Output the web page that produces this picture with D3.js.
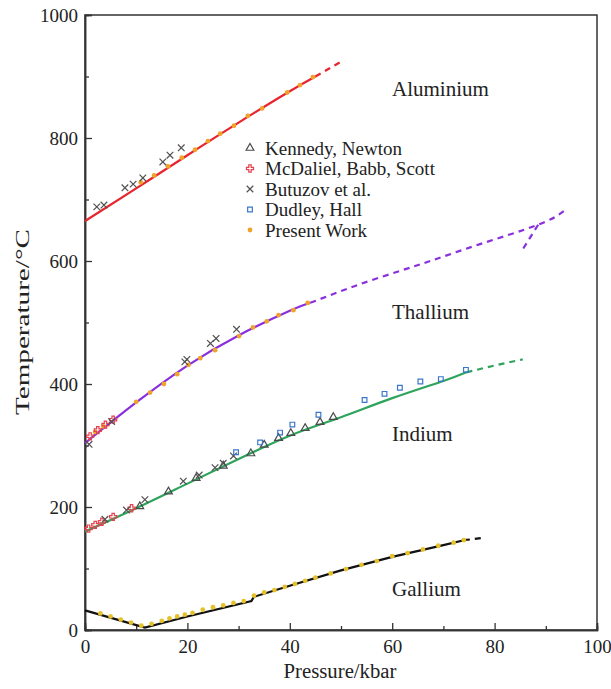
<!DOCTYPE html>
<html>
<head>
<meta charset="utf-8">
<script src="https://cdn.jsdelivr.net/npm/d3@7"></script>
<style>
html,body{margin:0;padding:0;background:#fff;}
</style>
</head>
<body>
<svg id="chart" width="611" height="689"></svg>
<script>
// ---------- data ----------
const xTicks = [0, 20, 40, 60, 80, 100];
const yTicks = [0, 200, 400, 600, 800, 1000];
const xMinor = [10, 30, 50, 70, 90];
const yMinor = [100, 300, 500, 700, 900];

// fitted melting curves [pressure kbar, temperature °C]
const alSolid = [[0,665],[10,718],[20,772],[30,825],[40,876],[45,900]];
const alDash  = [[45,900],[50,924]];
const tlSolid = [[0,304],[10,370],[20,430],[30,479],[40,519],[44,532]];
const tlDash  = [[44,532],[55,566],[66,596],[77,627],[88.5,659],[93.5,681]];
const tlBranch = [[88.5,659],[85.5,619]];
const inSolid = [[0,160],[10,198],[20,238],[30,278],[40,316],[50,346],[60,377],[70,405],[74.5,419]];
const inDash  = [[74.5,419],[80,430],[85.5,440]];
const gaSolid = [[0,32],[11.7,4],[20,22],[32.5,47],[33,54],[40,72],[50,97],[60,119],[70,138],[74,146]];
const gaDash  = [[74,146],[78,150]];

// experimental points
const kennedy = [[10.7,201],[16.3,225],[21.7,247],[27,267],[32.4,287],[35,301],[37.8,312],[40.2,320],[43,328],[45.9,338],[48.5,346]];
const mcdaniel = [[0.7,165],[2,171],[3.3,176],[5.5,184],[9.1,198],[1,315],[2.5,325],[4,334],[5.5,342]];
const butuzov = [[2.3,688],[3.7,691],[7.8,719],[9.4,725],[11.3,735],[15.2,761],[16.6,772],[18.8,784],
  [0.8,302],[5.2,339],[19.5,436],[19.9,440],[24.5,466],[25.6,474],[29.6,489],
  [3.9,180],[8.1,195],[11.7,212],[19.2,242],[22.3,252],[25.4,264],[27,271],[29,283]];
const dudley = [[29.5,289],[34.2,305],[38.1,321],[40.5,334],[45.6,350],[54.6,374],[58.5,384],[61.5,394],[65.5,404],[69.5,408],[74.4,423]];
const presentAl = [[10.9,728],[13.5,739],[16.2,754],[18.9,768],[21.5,781],[24,795],[26.4,807],[29.1,820],[31.8,836],[34.6,848],[39.5,874],[42,886],[44.5,899]];
const presentTl = [[2,322],[3.6,331],[10,371],[12.7,386],[15.4,400],[18,416],[20.2,431],[22.5,442],[25.4,455],[30.1,478],[32.8,492],[35.5,502],[37.8,512],[40.7,520],[43.5,532]];
const presentGa = [[3,27],[5,22],[7,17],[9,12],[11,7],[13,10],[15,15],[16.5,19],[18,22],[19.5,25],[21,28],[23,33],[25,37],[27,40],[29,44],[31,47],[33,56],[35,61],[37,65],[39,70],[41,75],[43,80],[45,85],[48,92],[51,99],[54,106],[57,112],[60,120],[63,125],[66,131],[69,137],[72,142],[74,146]];

const metalLabels = [["Aluminium",880],["Thallium",518],["Indium",320],["Gallium",68]];
const legendItems = ["Kennedy, Newton","McDaliel, Babb, Scott","Butuzov et al.","Dudley, Hall","Present Work"];

// ---------- drawing ----------
const FONT = "'Liberation Serif','Times New Roman','DejaVu Serif',serif";
const svg = d3.select("#chart").style("font-family",FONT);
const x = d3.scaleLinear().domain([0,100]).range([85,597]);
const y = d3.scaleLinear().domain([0,1000]).range([630,15]);
const line = d3.line().x(d=>x(d[0])).y(d=>y(d[1])).curve(d3.curveNatural);
const lineLin = d3.line().x(d=>x(d[0])).y(d=>y(d[1]));

const C = {al:"#e8242c", tl:"#8a2fdc", in:"#2ea35c", ga:"#111", orange:"#f0a22a", gaPt:"#e6c22a", tri:"#4a4a4a", plus:"#e8404e", cross:"#505050", sq:"#3a76cc"};

function txt(sel){ return sel.style("font-family",FONT).attr("fill","#222"); }

// frame
svg.append("rect").attr("x",x(0)).attr("y",y(1000)).attr("width",x(100)-x(0)).attr("height",y(0)-y(1000))
  .attr("fill","none").attr("stroke","#333").attr("stroke-width",1.5);

// axes (ticks inward)
const xAxis = d3.axisBottom(x).tickValues(xTicks).tickSize(-7).tickPadding(8).tickFormat(d3.format("d"));
const gx = svg.append("g").attr("transform",`translate(0,${y(0)})`).call(xAxis);
const xAxisMinor = d3.axisBottom(x).tickValues(xMinor).tickSize(-4).tickFormat("");
const gxm = svg.append("g").attr("transform",`translate(0,${y(0)})`).call(xAxisMinor);
const yAxis = d3.axisLeft(y).tickValues(yTicks).tickSize(-7).tickPadding(7).tickFormat(d3.format("d"));
const gy = svg.append("g").attr("transform",`translate(${x(0)},0)`).call(yAxis);
const yAxisMinor = d3.axisLeft(y).tickValues(yMinor).tickSize(-4).tickFormat("");
const gym = svg.append("g").attr("transform",`translate(${x(0)},0)`).call(yAxisMinor);
[gx,gxm,gy,gym].forEach(g=>{
  g.attr("font-family",null);
  g.select(".domain").attr("stroke","#333").attr("stroke-width",1.5);
  g.selectAll(".tick line").attr("stroke","#333").attr("stroke-width",1.3);
  txt(g.selectAll(".tick text")).attr("font-size",19);
});
gx.selectAll(".tick text").attr("dy","0.8em");

txt(svg.append("text")).attr("x",340).attr("y",678).attr("text-anchor","middle").attr("font-size",20)
  .attr("textLength",113).attr("lengthAdjust","spacingAndGlyphs").text("Pressure/kbar");
txt(svg.append("text")).attr("transform","translate(29,322) rotate(-90)").attr("text-anchor","middle").attr("font-size",19)
  .attr("textLength",186).attr("lengthAdjust","spacingAndGlyphs").text("Temperature/°C");

// curves
function drawLine(data,color,dash,fn){
  svg.append("path").datum(data).attr("d",(fn||line)).attr("fill","none").attr("stroke",color)
    .attr("stroke-width",2.2).attr("stroke-dasharray",dash?"6,5":null);
}
drawLine(alSolid,C.al,false); drawLine(alDash,C.al,true);
drawLine(tlSolid,C.tl,false); drawLine(tlDash,C.tl,true); drawLine(tlBranch,C.tl,true,lineLin);
drawLine(inSolid,C.in,false); drawLine(inDash,C.in,true);
drawLine(gaSolid,C.ga,false,lineLin); drawLine(gaDash,C.ga,true);

// markers
const sym = {
  tri: d3.symbol().type(d3.symbolTriangle).size(26),
  plus: d3.symbol().type(d3.symbolCross).size(28),
  cross: d3.symbol().type(d3.symbolX).size(30),
  sq: d3.symbol().type(d3.symbolSquare).size(22),
  dot: d3.symbol().type(d3.symbolCircle).size(18)
};
function pts(data,type,color,fill){
  svg.append("g").selectAll("path").data(data).join("path")
    .attr("transform",d=>`translate(${x(d[0])},${y(d[1])})`)
    .attr("d",sym[type])
    .attr("fill",fill?color:"none").attr("stroke",fill?"none":color).attr("stroke-width",1.2);
}
pts(presentAl,"dot",C.orange,true);
pts(presentTl,"dot",C.orange,true);
pts(presentGa,"dot",C.gaPt,true);
pts(kennedy,"tri",C.tri,false);
pts(mcdaniel,"plus",C.plus,false);
pts(butuzov,"cross",C.cross,false);
pts(dudley,"sq",C.sq,false);

// metal labels
metalLabels.forEach(([t,py])=>{
  txt(svg.append("text")).attr("x",392).attr("y",y(py)).attr("dy","0.35em").attr("font-size",21).text(t);
});

// legend
const legTypes = [["tri",C.tri,false],["plus",C.plus,false],["cross",C.cross,false],["sq",C.sq,false],["dot",C.orange,true]];
legendItems.forEach((t,i)=>{
  const ly = 148 + i*20.5;
  const [tp,col,fl] = legTypes[i];
  svg.append("path").attr("transform",`translate(250,${ly})`).attr("d",sym[tp])
    .attr("fill",fl?col:"none").attr("stroke",fl?"none":col).attr("stroke-width",1.2);
  txt(svg.append("text")).attr("x",265).attr("y",ly).attr("dy","0.35em").attr("font-size",19).text(t);
});
</script>
</body>
</html>
